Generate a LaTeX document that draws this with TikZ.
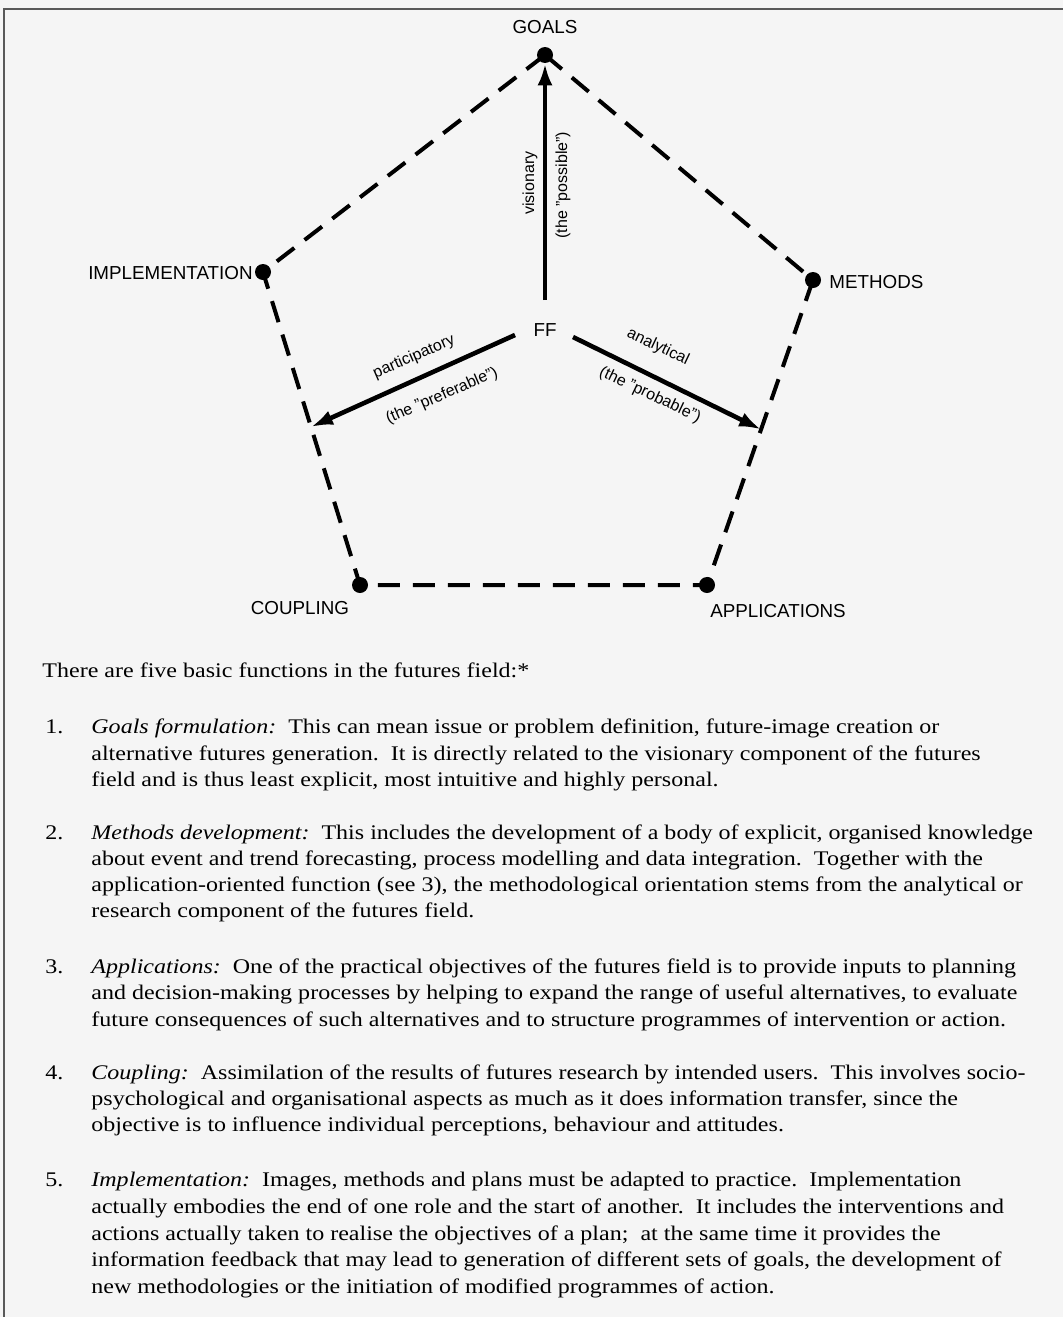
\documentclass[tikz,border=0pt]{standalone}
\usepackage{fontspec}
\setmainfont{Liberation Serif}[FakeStretch=1.155]
\newfontfamily\lblfont{Liberation Sans}[Ligatures=TeX]
\usetikzlibrary{arrows.meta,calc}
\begin{document}
\begin{tikzpicture}[x=0.5pt,y=-0.5pt,
  dot/.style={circle,fill=black,inner sep=0pt,minimum size=8pt},
  pentedge/.style={line width=2pt,dash pattern=on 11pt off 6.5pt},
  ray/.style={line width=2.3pt,-{Latex[length=11pt,width=7.5pt]}},
  corner/.style={font=\lblfont\fontsize{9.4}{11}\selectfont,inner sep=0pt},
  rlabel/.style={font=\lblfont\fontsize{8}{9}\selectfont,inner sep=0pt},
  body/.style={anchor=base west,inner sep=0pt,font=\fontsize{10.4}{13}\selectfont},
  frameline/.style={line width=0.6pt,black!65}]
\fill[black!4] (0,0) rectangle (1063,1317);
\useasboundingbox (0,0) rectangle (1063,1317);
\draw[frameline] (4,1317) -- (4,9) -- (1063,9);
% corners
\node[dot] (goals) at (545,55) {};
\node[dot] (impl) at (263,272) {};
\node[dot] (meth) at (813,280) {};
\node[dot] (coup) at (360,585) {};
\node[dot] (appl) at (707,585) {};
\node[corner] (goalslbl) at (545,27) {GOALS};
\node[corner,anchor=east] (impllbl) at (253,273) {IMPLEMENTATION};
\node[corner,anchor=west] (methlbl) at (829,282) {METHODS};
\node[corner] (couplbl) at (300,608) {COUPLING};
\node[corner] (appllbl) at (778,611) {APPLICATIONS};
\draw[pentedge] (goals.center) -- (meth.center) -- (appl.center) -- (coup.center) -- (impl.center) -- cycle;
% centre
\node[corner] (ff) at (545,330) {FF};
\coordinate (fup) at (545,300);
\coordinate (fl) at (515,335);
\coordinate (fr) at (573,337);
\coordinate (pl) at ($(impl)!0.495!(coup)$);
\coordinate (pr) at ($(meth)!0.49!(appl)$);
\draw[ray] (fup) -- (goals);
\draw[ray] (fl) -- (pl);
\draw[ray] (fr) -- (pr);
\node[rlabel,rotate=90] (vis) at (530,183) {visionary};
\node[rlabel,rotate=90] (poss) at (563,185) {(the ''possible'')};
\node[rlabel,rotate=23.5] (part) at (414,357) {participatory};
\node[rlabel,rotate=23.5] (pref) at (442,396) {(the ''preferable'')};
\node[rlabel,rotate=-25.5] (anal) at (658,347) {analytical};
\node[rlabel,rotate=-25.5] (prob) at (650,395) {(the ''probable'')};
% text
\node[body] (intro) at (42,677) {There are five basic functions in the futures field:*};
\node[body] (n1) at (45,733) {1.};
\node[body] (t1a) at (91,733) {\textit{Goals formulation:}\ \ This can mean issue or problem definition, future-image creation or};
\node[body] (t1b) at (91,760) {alternative futures generation.\ \ It is directly related to the visionary component of the futures};
\node[body] (t1c) at (91,786) {field and is thus least explicit, most intuitive and highly personal.};
\node[body] (n2) at (45,839) {2.};
\node[body] (t2a) at (91,839) {\textit{Methods development:}\ \ This includes the development of a body of explicit, organised knowledge};
\node[body] (t2b) at (91,865) {about event and trend forecasting, process modelling and data integration.\ \ Together with the};
\node[body] (t2c) at (91,891) {application-oriented function (see 3), the methodological orientation stems from the analytical or};
\node[body] (t2d) at (91,917) {research component of the futures field.};
\node[body] (n3) at (45,973) {3.};
\node[body] (t3a) at (91,973) {\textit{Applications:}\ \ One of the practical objectives of the futures field is to provide inputs to planning};
\node[body] (t3b) at (91,999) {and decision-making processes by helping to expand the range of useful alternatives, to evaluate};
\node[body] (t3c) at (91,1026) {future consequences of such alternatives and to structure programmes of intervention or action.};
\node[body] (n4) at (45,1079) {4.};
\node[body] (t4a) at (91,1079) {\textit{Coupling:}\ \ Assimilation of the results of futures research by intended users.\ \ This involves socio-};
\node[body] (t4b) at (91,1105) {psychological and organisational aspects as much as it does information transfer, since the};
\node[body] (t4c) at (91,1131) {objective is to influence individual perceptions, behaviour and attitudes.};
\node[body] (n5) at (45,1186) {5.};
\node[body] (t5a) at (91,1186) {\textit{Implementation:}\ \ Images, methods and plans must be adapted to practice.\ \ Implementation};
\node[body] (t5b) at (91,1213) {actually embodies the end of one role and the start of another.\ \ It includes the interventions and};
\node[body] (t5c) at (91,1240) {actions actually taken to realise the objectives of a plan;\ \ at the same time it provides the};
\node[body] (t5d) at (91,1266) {information feedback that may lead to generation of different sets of goals, the development of};
\node[body] (t5e) at (91,1293) {new methodologies or the initiation of modified programmes of action.};
\end{tikzpicture}
\end{document}
